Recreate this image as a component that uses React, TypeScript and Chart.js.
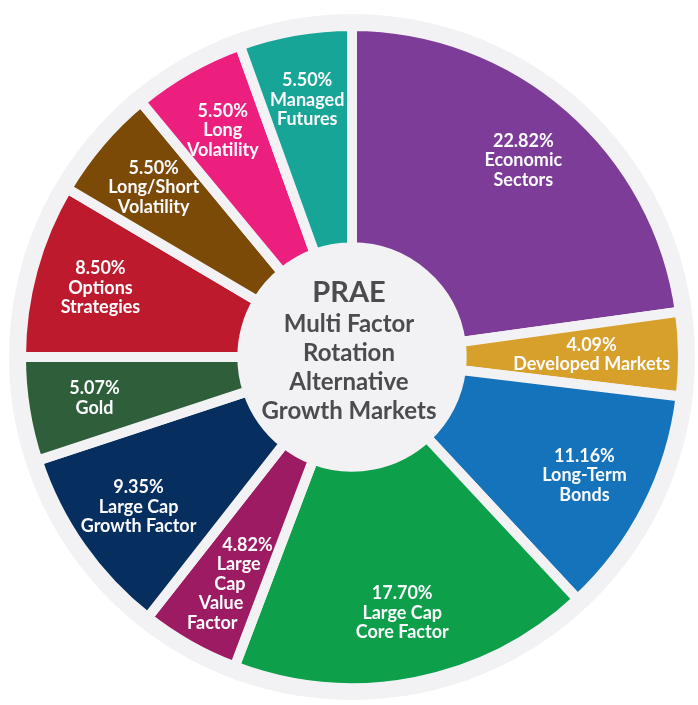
import React, { useEffect, useRef } from "react";
import { Chart, registerables } from "chart.js";

Chart.register(...registerables);

const categories = [
  "Economic Sectors",
  "Developed Markets",
  "Long-Term Bonds",
  "Large Cap Core Factor",
  "Large Cap Value Factor",
  "Large Cap Growth Factor",
  "Gold",
  "Options Strategies",
  "Long/Short Volatility",
  "Long Volatility",
  "Managed Futures",
];

const weights = [22.82, 4.09, 11.16, 17.7, 4.82, 9.35, 5.07, 8.5, 5.5, 5.5, 5.5];

const nameLines = [
  ["Economic", "Sectors"],
  ["Developed Markets"],
  ["Long-Term", "Bonds"],
  ["Large Cap", "Core Factor"],
  ["Large", "Cap", "Value", "Factor"],
  ["Large Cap", "Growth Factor"],
  ["Gold"],
  ["Options", "Strategies"],
  ["Long/Short", "Volatility"],
  ["Long", "Volatility"],
  ["Managed", "Futures"],
];

const colors = [
  "#7d3c98",
  "#d6a02b",
  "#1573bc",
  "#0d9f4a",
  "#9c1b62",
  "#062f5f",
  "#2e5e3a",
  "#be1a2d",
  "#7b4a06",
  "#ec1f7f",
  "#16a596",
];

const centerLines = ["PRAE", "Multi Factor", "Rotation", "Alternative", "Growth Markets"];

const GRAY = "#f2f2f4";
const FONT = "Lato, 'Open Sans', sans-serif";

const bgDiskPlugin = {
  id: "bgDisk",
  beforeDatasetsDraw(chart: any) {
    const meta = chart.getDatasetMeta(0);
    const arc = meta.data[0];
    if (!arc) return;
    const { x, y, outerRadius } = arc.getProps(["x", "y", "outerRadius"], true);
    const ctx = chart.ctx;
    ctx.save();
    ctx.beginPath();
    ctx.arc(x, y, outerRadius + 12, 0, Math.PI * 2);
    ctx.fillStyle = GRAY;
    ctx.fill();
    ctx.restore();
  },
};

const labelPlugin = {
  id: "sliceLabels",
  afterDatasetsDraw(chart: any) {
    const meta = chart.getDatasetMeta(0);
    const ctx = chart.ctx;
    ctx.save();
    ctx.fillStyle = "#fbfbfd";
    ctx.textAlign = "center";
    ctx.textBaseline = "middle";
    ctx.font = `700 18px ${FONT}`;
    const lh = 19.5;
    meta.data.forEach((el: any, i: number) => {
      const { x, y, startAngle, endAngle, outerRadius } = el.getProps(
        ["x", "y", "startAngle", "endAngle", "outerRadius"],
        true
      );
      const mid = (startAngle + endAngle) / 2;
      const visOuter = outerRadius - 5;
      const f = weights[i] < 4.5 ? 0.735 : 0.8;
      const r = visOuter * f;
      const lines = [weights[i].toFixed(2) + "%", ...nameLines[i]];
      const tall = lines.length >= 4;
      const cx = x + Math.cos(mid) * r + (tall ? 6 : 0);
      const cy = y + Math.sin(mid) * r;
      const top = cy - ((lines.length - 1) * lh) / 2;
      // tall stacks in narrow slices follow the slice direction
      const slant = tall ? (0.8 * Math.cos(mid)) / Math.sin(mid) : 0;
      lines.forEach((t, k) => {
        const ly = top + k * lh;
        ctx.fillText(t, cx + (ly - cy) * slant, ly);
      });
    });
    ctx.restore();
  },
  afterDraw(chart: any) {
    const meta = chart.getDatasetMeta(0);
    const arc = meta.data[0];
    if (!arc) return;
    const { x, y } = arc.getProps(["x", "y"], true);
    const ctx = chart.ctx;
    ctx.save();
    ctx.fillStyle = "#4b4b50";
    ctx.textAlign = "center";
    ctx.textBaseline = "middle";
    ctx.font = `700 29px ${FONT}`;
    ctx.fillText(centerLines[0], x - 3, y - 64);
    ctx.font = `700 24px ${FONT}`;
    centerLines.slice(1).forEach((t, k) => {
      ctx.fillText(t, x - 3, y - 33 + k * 29);
    });
    ctx.restore();
  },
};

export default function App() {
  const ref = useRef<HTMLCanvasElement | null>(null);
  useEffect(() => {
    document.body.style.margin = "0";
    document.body.style.background = "#ffffff";
    if (!ref.current) return;
    const chart = new Chart(ref.current, {
      type: "doughnut",
      data: {
        labels: categories,
        datasets: [
          {
            data: weights,
            backgroundColor: colors,
            borderColor: GRAY,
            borderWidth: 10,
            borderAlign: "center",
            borderJoinStyle: "miter",
            hoverOffset: 0,
          } as any,
        ],
      },
      options: {
        responsive: false,
        animation: false,
        radius: 331,
        cutout: 111,
        rotation: 0,
        layout: { padding: { left: 12, right: 6, top: 17, bottom: 8 } },
        plugins: {
          legend: { display: false },
          tooltip: { enabled: false },
        },
        events: [],
      } as any,
      plugins: [bgDiskPlugin, labelPlugin],
    });
    return () => chart.destroy();
  }, []);
  return (
    <div style={{ width: 698, height: 705, background: "#ffffff" }}>
      <canvas ref={ref} width={698} height={705} style={{ display: "block" }} />
    </div>
  );
}
